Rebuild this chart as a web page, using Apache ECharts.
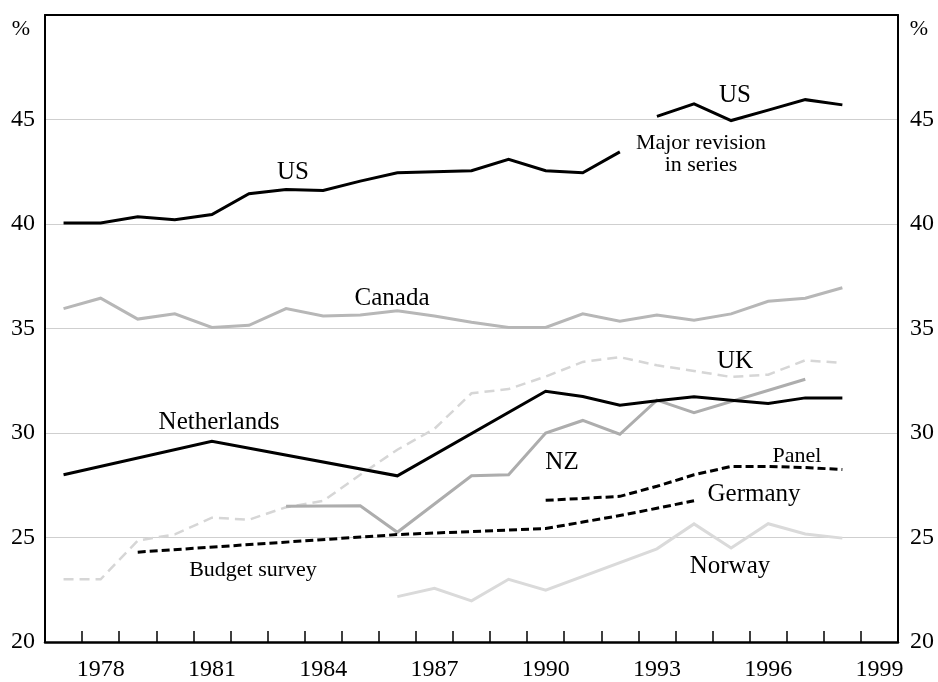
<!DOCTYPE html>
<html>
<head>
<meta charset="utf-8">
<style>
  html, body { margin: 0; padding: 0; background: #fff; }
  #chart { width: 938px; height: 682px; }
</style>
<script src="https://cdn.jsdelivr.net/npm/echarts@6/dist/echarts.min.js"></script>
</head>
<body>
<div id="chart"></div>
<script>
// Years on the horizontal axis (one band per year)
const years = ['1977','1978','1979','1980','1981','1982','1983','1984','1985','1986','1987',
               '1988','1989','1990','1991','1992','1993','1994','1995','1996','1997','1998','1999'];

// Shares, per cent (null = no observation; lines bridge gaps inside a series)
const usOld = [40.05, 40.05, 40.35, 40.2, 40.45, 41.45, 41.65, 41.6, 42.05, 42.45, 42.5,
               42.55, 43.1, 42.55, 42.45, 43.45, null, null, null, null, null, null, null];
const usNew = [null, null, null, null, null, null, null, null, null, null, null,
               null, null, null, null, null, 45.15, 45.75, 44.95, 45.45, 45.95, 45.7, null];
const canada = [35.95, 36.45, 35.45, 35.7, 35.05, 35.15, 35.95, 35.6, 35.65, 35.85, 35.6,
                35.3, 35.05, 35.05, 35.7, 35.35, 35.65, 35.4, 35.7, 36.3, 36.45, 36.95, null];
const netherlands = [28.0, null, null, null, 29.6, null, null, null, null, 27.95, null,
                     null, null, 32.0, 31.75, 31.33, 31.54, 31.73, 31.57, 31.41, 31.68, 31.68, null];
const uk = [23.0, 23.0, 24.85, 25.15, 25.95, 25.85, 26.45, 26.75, 28.0, 29.2, 30.2,
            31.9, 32.1, 32.7, 33.4, 33.63, 33.24, 32.97, 32.68, 32.79, 33.48, 33.35, null];
const nz = [null, null, null, null, null, null, 26.5, null, 26.52, 25.25, null,
            27.95, 28.0, 30.0, 30.6, 29.94, 31.57, 30.97, null, null, 32.57, null, null];
const germanyBudget = [null, null, 24.3, null, null, null, null, null, null, 25.14, null,
                       null, null, 25.43, 25.74, 26.05, 26.4, 26.76, null, null, null, null, null];
const germanyPanel = [null, null, null, null, null, null, null, null, null, null, null,
                      null, null, 26.78, 26.87, 26.97, 27.45, 28.0, 28.4, 28.4, 28.35, 28.25, null];
const norway = [null, null, null, null, null, null, null, null, null, 22.17, 22.57,
                21.97, 23.0, 22.48, null, null, 24.46, 25.65, 24.5, 25.66, 25.17, 24.97, null];

// Value-axis scale
const yMin = 20, yMax = 50, yStep = 5;

const SERIF = '"Liberation Serif", "DejaVu Serif", "Times New Roman", serif';

const chart = echarts.init(document.getElementById('chart'));

function lineSeries(name, data, color, width, dash) {
  return {
    name: name,
    type: 'line',
    data: data,
    connectNulls: true,
    symbol: 'none',
    silent: true,
    animation: false,
    lineStyle: { color: color, width: width, type: dash || 'solid', cap: 'butt', join: 'miter' }
  };
}

function label(text, x, y, size) {
  return {
    type: 'text',
    x: x, y: y,
    silent: true,
    style: {
      text: text,
      fill: '#000',
      font: size + 'px ' + SERIF,
      align: 'center',
      verticalAlign: 'middle'
    }
  };
}

const gridColors = ['rgba(0,0,0,0)', '#cfcfcf', '#cfcfcf', '#cfcfcf', '#cfcfcf', '#cfcfcf', 'rgba(0,0,0,0)'];

function valueAxis(pos, margin) {
  return {
    type: 'value',
    position: pos,
    min: yMin, max: yMax, interval: yStep,
    axisLine: { show: true, lineStyle: { color: '#000', width: 2 } },
    axisTick: { show: false },
    splitLine: { show: pos === 'left', lineStyle: { color: gridColors, width: 1.2 } },
    axisLabel: {
      margin: margin,
      color: '#000',
      fontFamily: SERIF,
      fontSize: 24,
      formatter: v => (v === yMax ? '' : String(v))
    }
  };
}

chart.setOption({
  animation: false,
  backgroundColor: '#fff',
  grid: { left: 45, right: 40, top: 15, bottom: 39, containLabel: false },
  xAxis: [
    {
      type: 'category',
      data: years,
      boundaryGap: true,
      position: 'bottom',
      axisLine: { show: true, lineStyle: { color: '#000', width: 2.5 } },
      axisTick: { show: true, inside: true, length: 11, interval: 0, lineStyle: { color: '#000', width: 1.5 } },
      axisLabel: {
        interval: (i) => (i - 1) % 3 === 0,
        margin: 16,
        color: '#000',
        fontFamily: SERIF,
        fontSize: 24
      },
      splitLine: { show: false }
    },
    {
      type: 'category',
      data: years,
      position: 'top',
      axisLine: { show: true, lineStyle: { color: '#000', width: 2 } },
      axisTick: { show: false },
      axisLabel: { show: false },
      splitLine: { show: false }
    }
  ],
  yAxis: [valueAxis('left', 10), valueAxis('right', 12)],
  series: [
    lineSeries('Norway', norway, '#dadada', 3),
    lineSeries('UK', uk, '#d6d6d6', 2.5, [10, 6]),
    lineSeries('Canada', canada, '#b7b7b7', 3),
    lineSeries('NZ', nz, '#adadad', 3),
    lineSeries('Germany budget survey', germanyBudget, '#000', 3, [8, 4]),
    lineSeries('Germany panel', germanyPanel, '#000', 3, [8, 4]),
    lineSeries('Netherlands', netherlands, '#000', 3),
    lineSeries('US', usOld, '#000', 3),
    lineSeries('US revised', usNew, '#000', 3)
  ],
  graphic: [
    label('%', 21, 29, 22),
    label('%', 919, 29, 22),
    label('US', 293, 172, 25),
    label('US', 735, 95, 25),
    label('Major revision', 701, 143, 22),
    label('in series', 701, 165, 22),
    label('Canada', 392, 298, 25),
    label('Netherlands', 219, 422, 25),
    label('UK', 735, 361, 25),
    label('NZ', 562, 462, 25),
    label('Panel', 797, 456, 22),
    label('Germany', 754, 494, 25),
    label('Budget survey', 253, 570, 22),
    label('Norway', 730, 566, 25)
  ]
});
</script>
</body>
</html>
